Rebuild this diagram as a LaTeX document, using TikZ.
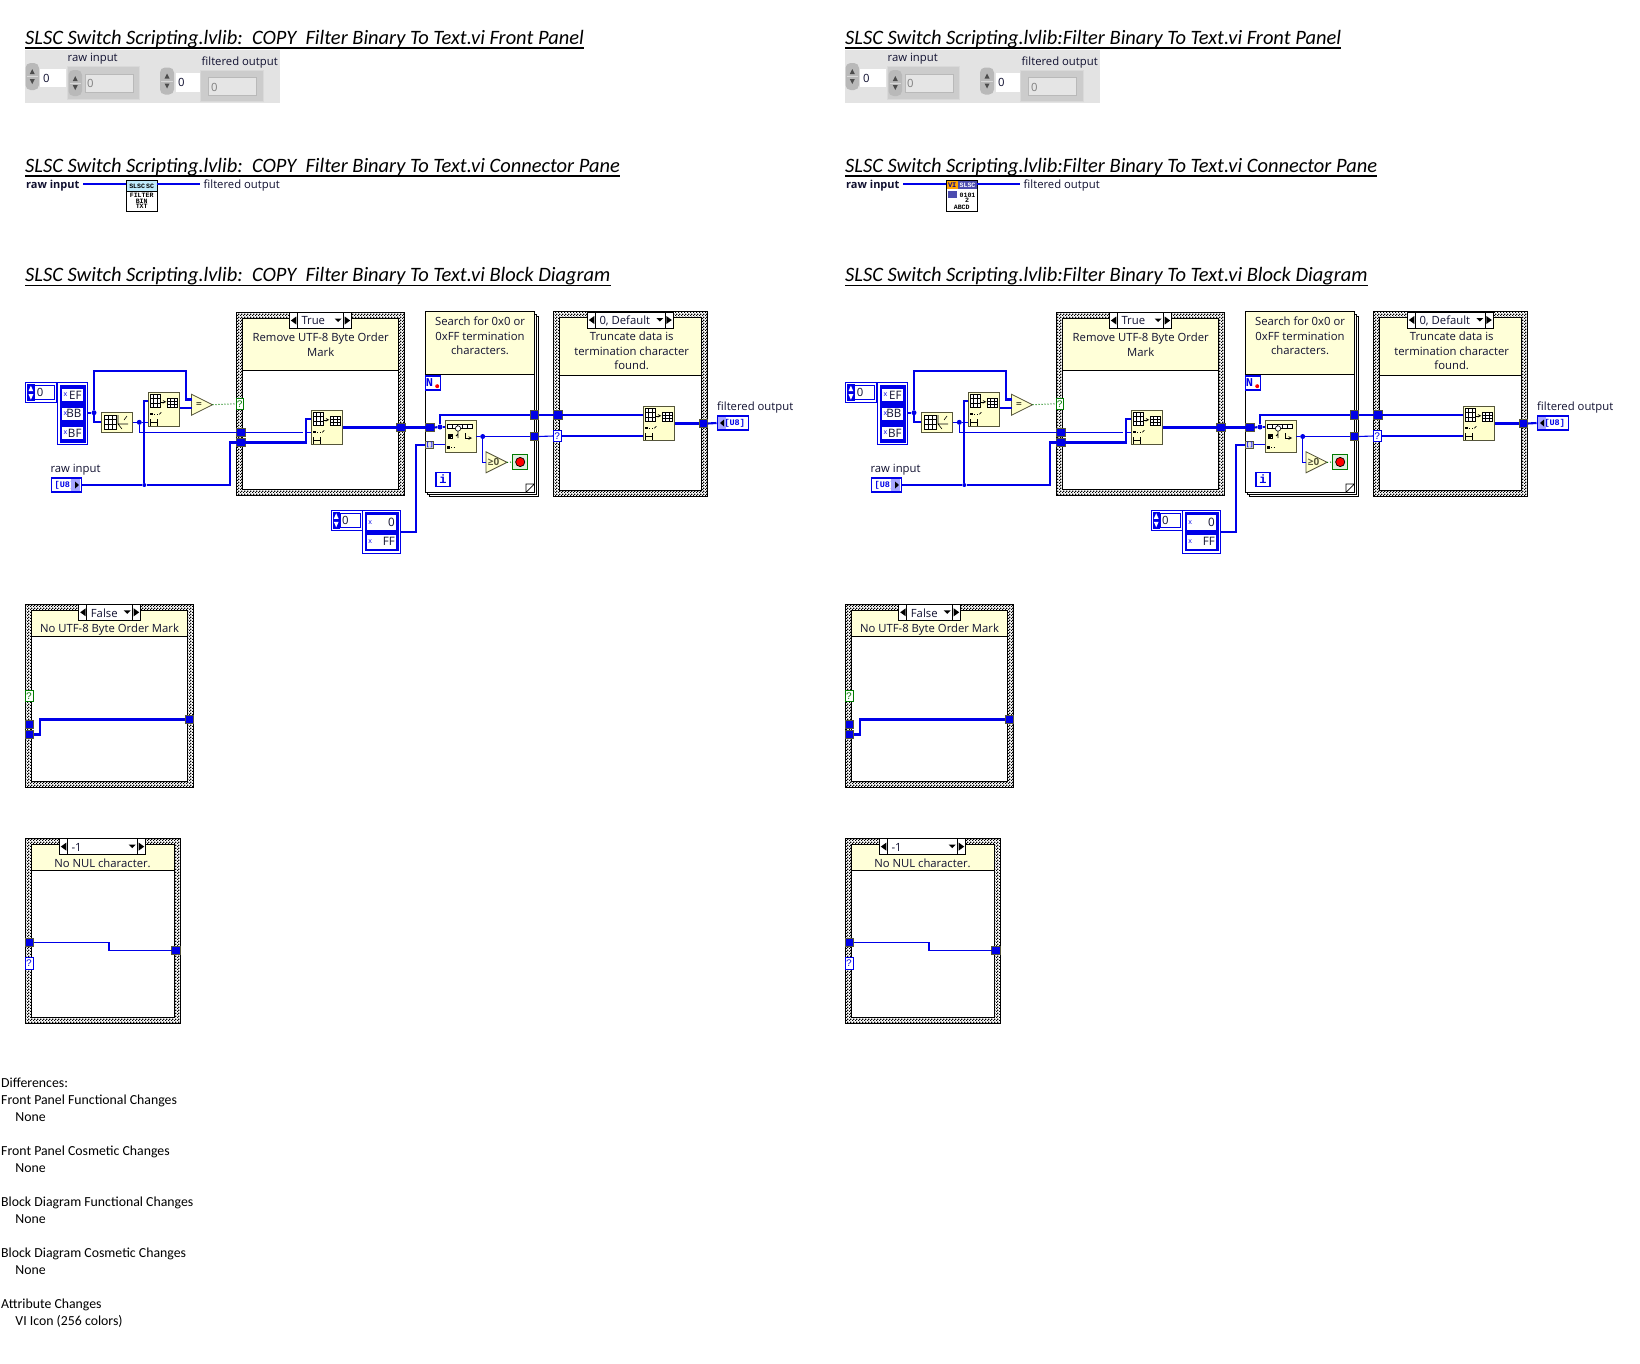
\documentclass[tikz,border=0pt]{standalone}
\usepackage{fontspec}
\setmainfont{Carlito}
\newfontfamily\lvfont{Open Sans}
\newfontfamily\lvmono{Liberation Mono}
\usetikzlibrary{patterns}

\definecolor{lvblue}{HTML}{0000E8}
\definecolor{lvpale}{HTML}{FFFFD8}
\definecolor{lvfunc}{HTML}{FFFFCC}
\definecolor{lvedge}{HTML}{55553A}
\definecolor{lvgreen}{HTML}{007A00}
\definecolor{lvtext}{HTML}{101030}
\definecolor{lvpanel}{HTML}{E3E3E3}

\pgfdeclarepatternformonly{lvdither}{\pgfqpoint{0pt}{0pt}}{\pgfqpoint{3pt}{3pt}}{\pgfqpoint{3pt}{3pt}}{%
	\pgfpathrectangle{\pgfqpoint{0pt}{0pt}}{\pgfqpoint{1.5pt}{1.5pt}}%
	\pgfpathrectangle{\pgfqpoint{1.5pt}{1.5pt}}{\pgfqpoint{1.5pt}{1.5pt}}%
	\pgfusepath{fill}}

\tikzset{
	wire/.style={draw=lvblue,line width=2.1pt},
	thinwire/.style={draw=lvblue,line width=1.1pt},
	boolwire/.style={draw=lvgreen,line width=1pt,dotted},
	tunnel/.style={draw=lvedge,fill=lvblue,line width=.8pt,minimum size=8.4pt,inner sep=0pt,outer sep=0pt},
	junction/.style={circle,fill=lvblue,minimum size=5pt,inner sep=0pt},
	vifunc/.style={draw=lvedge,fill=lvfunc,line width=.8pt,anchor=north west,minimum width=31.4pt,minimum height=34.4pt,inner sep=0pt,outer sep=0pt},
	comment/.style={align=center,text=lvtext,inner sep=0pt,font=\lvfont\fontsize{11.3}{14.6}\selectfont},
	lvlabel/.style={anchor=west,text=lvtext,inner sep=0pt,font=\lvfont\fontsize{11.3}{14}\selectfont},
	vititle/.style={anchor=south west,inner sep=0pt,text depth=3.5pt,font=\fontsize{20.45}{24}\selectfont\itshape},
	termq/.style={draw=#1,text=#1,fill=white,line width=.8pt,minimum width=7.6pt,minimum height=11.4pt,inner sep=0pt,font=\lvmono\fontsize{10}{10}\selectfont},
	numcell/.style={fill=white,inner sep=0pt,anchor=north west},
	iconline/.style={inner sep=0pt,font=\lvmono\bfseries\fontsize{6.6}{6.6}\selectfont},
	gridline/.style={draw=black,line width=.6pt},
}

% case frame: x1 y1 x2 y2 bottom of the header
\newcommand\caseframe[5]{
	\draw[black,line width=.9pt,pattern=lvdither] (#1,#2) rectangle (#3,#4);
	\draw[black,line width=.8pt,fill=white] (#1+6,#2+6) rectangle (#3-6,#4-6);
	\draw[black,line width=.8pt,fill=lvpale] (#1+6,#2+6) rectangle (#3-6,#5);
}
% case selector: name x1 x2 y label
\newcommand\caseselect[5]{
	\draw[black,line width=.8pt,fill=white] (#2,#4) rectangle (#3,#4+16);
	\draw[black,line width=.8pt] (#2+8,#4) -- (#2+8,#4+16) (#3-8,#4) -- (#3-8,#4+16);
	\fill[black] (#2+1.5,#4+8) -- (#2+7,#4+4) -- (#2+7,#4+12) -- cycle;
	\fill[black] (#3-1.5,#4+8) -- (#3-7,#4+4) -- (#3-7,#4+12) -- cycle;
	\fill[black] (#3-17,#4+6) -- (#3-10,#4+6) -- (#3-13.5,#4+9.5) -- cycle;
	\node[lvlabel] (#1) at (#2+12,#4+8.5) {#5};
}
\newcommand\gridbox[4]{
	\draw[gridline,fill=white] (#1,#2) rectangle (#3,#4);
	\draw[gridline] ({(#1)+((#3)-(#1))/3},#2) -- ({(#1)+((#3)-(#1))/3},#4) ({(#1)+2*((#3)-(#1))/3},#2) -- ({(#1)+2*((#3)-(#1))/3},#4);
	\draw[gridline] (#1,{(#2)+((#4)-(#2))/3}) -- (#3,{(#2)+((#4)-(#2))/3}) (#1,{(#2)+2*((#4)-(#2))/3}) -- (#3,{(#2)+2*((#4)-(#2))/3});
}
% array subset function: name x y
\newcommand\subsetfn[3]{
	\node[vifunc] (#1) at (#2,#3) {};
	\gridbox{#2+2}{#3+2}{#2+12}{#3+15}
	\draw[black,line width=.6pt,-stealth] (#2+13,#3+9.5) -- (#2+18,#3+9.5);
	\gridbox{#2+19}{#3+6}{#2+29}{#3+15}
	\fill[black] (#2+2,#3+20.5) rectangle (#2+4.5,#3+23);
	\draw[black,line width=.7pt,dotted] (#2+6,#3+22) -- (#2+10,#3+22);
	\draw[black,line width=.6pt] (#2+11,#3+22) -- (#2+13,#3+20);
	\draw[black,line width=.7pt,|-|] (#2+2,#3+30) -- (#2+9,#3+30);
}
% compare: name x y symbol
\newcommand\cmpfn[4]{
	\draw[draw=lvedge,fill=lvfunc,line width=.8pt] (#2,#3-10.5) -- (#2+21,#3) -- (#2,#3+10.5) -- cycle;
	\node[inner sep=0pt,font=\lvfont\bfseries\fontsize{10}{10}\selectfont,text=lvedge] (#1) at (#2+7.5,#3) {#4};
	\coordinate (#1in) at (#2,#3);
	\coordinate (#1out) at (#2+21,#3);
}
% index control: name x y
\newcommand\indexctl[3]{
	\draw[lvblue,line width=.8pt,fill=white] (#2,#3) rectangle (#2+31,#3+20);
	\fill[lvblue] (#2+1.5,#3+1.5) rectangle (#2+9,#3+18.5);
	\fill[white] (#2+5.2,#3+3) -- (#2+7.6,#3+8.5) -- (#2+2.8,#3+8.5) -- cycle;
	\fill[white] (#2+5.2,#3+17) -- (#2+7.6,#3+11.5) -- (#2+2.8,#3+11.5) -- cycle;
	\draw[lvblue,line width=.8pt] (#2+29,#3+3) rectangle (#2+9,#3+17);
	\node[lvlabel] (#1) at (#2+11,#3+10) {0};
}
% array cell: name x1 y1 w h text
\newcommand\arraycell[6]{
	\node[numcell,minimum width=#4pt,minimum height=#5pt] (#1) at (#2,#3) {};
	\node[inner sep=0pt,text=lvblue,font=\lvfont\fontsize{7}{7}\selectfont] (#1x) at (#2+3.5,#3+#5/2) {x};
	\node[anchor=east,inner sep=0pt,text=lvtext,font=\lvfont\fontsize{11.6}{12}\selectfont] (#1t) at (#2+#4-1,#3+#5/2) {#6};
}
% front panel spinner: x1 y1 x2 y2
\newcommand\fpspin[4]{
	\fill[gray!55,rounded corners=5pt] (#1,#2) rectangle (#3,#4);
	\draw[gray!30,line width=.6pt] (#1+1,{(#2+#4)/2}) -- (#3-1,{(#2+#4)/2});
	\fill[black!70] ({(#1+#3)/2},#2+6) -- ({(#1+#3)/2+2.5},#2+11) -- ({(#1+#3)/2-2.5},#2+11) -- cycle;
	\fill[black!70] ({(#1+#3)/2},#4-6) -- ({(#1+#3)/2+2.5},#4-11) -- ({(#1+#3)/2-2.5},#4-11) -- cycle;
}
% dimmed front panel box: x1 y1 x2 y2 x3 y3 x4 y4
\newcommand\fpdim[8]{
	\draw[white!85!black,line width=.8pt,fill=gray!40] (#1,#2) rectangle (#3,#4);
	\fill[gray!20] (#5,#6) rectangle (#7,#8);
	\draw[gray!55,line width=1pt] (#5,#6) rectangle (#7,#8);
}

\begin{document}
\begin{tikzpicture}[x=1pt,y=-1pt]
	\useasboundingbox (0,0) rectangle (1640,1363);

	\foreach \colname/\xs/\vitext in {L/0/{SLSC Switch Scripting.lvlib:~~COPY~~Filter Binary To Text.vi},R/820/{SLSC Switch Scripting.lvlib:Filter Binary To Text.vi}}{
	\begin{scope}[xshift=\xs,name prefix=\colname-]
		% titles
		\node[vititle] (fptitle) at (25,48) {\vitext\ Front Panel};
		\node[vititle] (cptitle) at (25,176) {\vitext\ Connector Pane};
		\node[vititle] (bdtitle) at (25,285.5) {\vitext\ Block Diagram};
		\foreach \t in {fptitle,cptitle,bdtitle}
			\draw[black,line width=1.4pt] (\t.south west) -- (\t.south east);

		% front panel
		\fill[lvpanel] (25,49.5) rectangle (280,102.7);
		\fpspin{25.5}{63}{39}{90}
		\fill[white] (40,69) rectangle (65.5,87);
		\node[lvlabel] (fpnum1) at (43,78) {0};
		\fpdim{67.6}{66.7}{139.3}{99.3}{85}{74.7}{133}{92.3}
		\fpspin{68.5}{70}{82}{96}
		\node[lvlabel,text=gray] (fpdim1) at (87,83.5) {0};
		\node[lvlabel] (fpraw) at (67.5,59) {raw input};
		\fpspin{160}{67.5}{174}{94.5}
		\fill[white] (176,72.7) rectangle (199.6,91.7);
		\node[lvlabel] (fpnum2) at (178,82.5) {0};
		\fpdim{200.8}{70.7}{263}{101}{208}{77.7}{256.6}{95.7}
		\node[lvlabel,text=gray] (fpdim2) at (211,87) {0};
		\node[lvlabel] (fpfilt) at (201.5,62.5) {filtered output};

		% connector pane
		\node[lvlabel,font=\lvfont\bfseries\fontsize{11}{14}\selectfont] (cpraw) at (26,185.5) {raw input};
		\node[lvlabel] (cpfilt) at (203.5,185.5) {filtered output};
		\node[draw=black,line width=.9pt,fill=white,minimum width=31.5pt,minimum height=31pt,inner sep=0pt,outer sep=0pt] (cpicon) at (141.7,195.8) {};
		\coordinate (cpin) at (83,184);
		\coordinate (cpout) at (200,184);
		\draw[wire] (cpin) -- (cpicon.west |- cpin);
		\draw[wire] (cpicon.east |- cpout) -- (cpout);
		\ifnum\xs=0
			\fill[cyan!25] (126.5,181) rectangle (157,191.5);
			\draw[black,line width=.7pt] (126,191.7) -- (157.5,191.7);
			\node[iconline] (icona) at (141.7,186.2) {SLSC\,SC};
			\node[iconline] (iconb) at (141.7,195.5) {FILTER};
			\node[iconline] (iconc) at (141.7,201) {BIN};
			\node[iconline] (icond) at (141.7,206.8) {TXT};
		\else
			\fill[blue!55!black!70] (126.5,181) rectangle (157,189);
			\fill[orange!70!yellow] (126.5,181) rectangle (138,189);
			\node[inner sep=0pt,font=\lvmono\bfseries\fontsize{7}{7}\selectfont,text=blue!60!black] (icone) at (132.2,185.2) {VI};
			\node[iconline,text=white] (icona) at (147.5,185.2) {SLSC};
			\fill[blue!55!black!70] (128,191) rectangle (137,198);
			\node[iconline] (iconb) at (147.5,195) {0101};
			\node[iconline] (iconc) at (147,200.5) {2};
			\node[iconline] (icond) at (141.7,207) {ABCD};
		\fi

		% block diagram frames
		\caseframe{236.7}{312.7}{404.7}{495.7}{370.3}
		\caseselect{casetrue}{289.3}{351.7}{312.5}{True}
		\node[comment] (truenote) at (320.7,344.7) {Remove UTF-8 Byte Order\\Mark};
		\foreach \o in {4.4,2.2}
			\draw[black,line width=.6pt,fill=white] (425.3+\o,311.7+\o) rectangle (534.3+\o,492.3+\o);
		\draw[black,line width=1.1pt,fill=white] (425.3,311.7) rectangle (534.3,492.3);
		\draw[black,line width=1.1pt,fill=lvpale] (425.3,311.7) rectangle (534.3,374.7);
		\draw[black,line width=.7pt,fill=white] (526,492.3) -- (526,484) -- (534.3,484) -- cycle;
		\node[comment] (loopnote) at (480,336) {Search for 0x0 or\\0xFF termination\\characters.};
		\caseframe{553.7}{311.7}{707.7}{496.7}{375.7}
		\caseselect{casedefault}{587.3}{673.3}{312}{0, Default}
		\node[comment] (defnote) at (631.7,351) {Truncate data is\\termination character\\found.};

		% left part
		\indexctl{idxa}{25.7}{382.7}
		\draw[lvblue,line width=.8pt,fill=white] (57.3,382.7) rectangle (87.7,444.7);
		\fill[lvblue] (59.5,385) rectangle (85.5,442.5);
		\arraycell{ef}{62}{389}{20.7}{12}{EF}
		\arraycell{bb}{62}{407.7}{20.7}{12}{BB}
		\arraycell{bf}{62}{427}{20.7}{12}{BF}
		\coordinate (arrout) at (87.7,412.7);
		\node[draw=lvedge,fill=lvfunc,line width=.8pt,anchor=north west,minimum width=31.7pt,minimum height=20.7pt,inner sep=0pt,outer sep=0pt] (sizefn) at (101,412) {};
		\gridbox{104}{415}{116}{429}
		\draw[black,line width=.6pt] (118,415) -- (118,424) -- (128,424) (118,424) -- (122,429) (124,420) -- (127,416);
		\subsetfn{subfna}{148.3}{392.3}
		\cmpfn{eqfn}{191.5}{404.7}{=}
		\node[termq=lvgreen] (selq) at (239.8,403.8) {?};
		\node[tunnel] (tuna) at (240.9,432.5) {};
		\node[tunnel] (tunb) at (240.9,442.5) {};
		\node[tunnel] (tunc) at (400.7,427.5) {};
		\node[junction] (joina) at (94,412.7) {};
		\node[junction] (joinb) at (139.3,422.3) {};
		\node[junction,minimum size=4pt] (joinc) at (144.3,485) {};
		\draw[wire] (arrout) -- (joina);
		\draw[wire] (joina) -- ++(0,-42) -| (186,399.5) -- (191.5,399.5);
		\draw[wire] (joina) |- (sizefn.west);
		\draw[thinwire] (sizefn.east |- joinb) -- (joinb);
		\draw[thinwire] (joinb) -- (subfna.west |- joinb);
		\draw[thinwire] (joinb) |- (tuna.west);
		\draw[wire] (joinc) -- ++(0,-84.3) -- (subfna.west |- 0,400.7);
		\coordinate (rawout) at (80.7,485);
		\draw[wire] (rawout) -- (joinc) -- ++(85.7,0) |- (tunb.west);
		\draw[wire] (subfna.east |- 0,408.3) -- (191.5,408.3);
		\draw[boolwire] (eqfnout) -- (selq.west);

		% raw input terminal
		\node[draw=lvblue,line width=1.6pt,fill=white,anchor=west,minimum width=30pt,minimum height=14pt,inner sep=0pt,text=lvblue,font=\lvmono\bfseries\fontsize{8.5}{8.5}\selectfont] (rawin) at (50.5,484.8) {[U8]\,\,};
		\fill[blue!35] (71,479) rectangle (79.5,491);
		\fill[black] (79,485) -- (75,481.5) -- (75,488.5) -- cycle;
		\node[lvlabel] (rawlab) at (50.3,469.5) {raw input};

		% inside the true case
		\subsetfn{subfnb}{311.3}{410.3}
		\draw[thinwire] (tuna.east) -- (303,432.5);
		\draw[thinwire] (305.7,432.5) -- (subfnb.west |- tuna);
		\draw[wire] (tunb.east) -- ++(60.6,0) |- (subfnb.west |- 0,418.7);
		\draw[wire] (subfnb.east |- tunc) -- (tunc.west);

		% while loop
		\node[tunnel] (tund) at (429.7,427.5) {};
		\node[draw=lvedge,fill=gray!25,line width=.8pt,minimum width=8pt,minimum height=7.6pt,inner sep=0pt,text=lvblue,font=\lvmono\bfseries\fontsize{6}{6}\selectfont] (tune) at (429.8,444.7) {[]};
		\node[tunnel] (tunf) at (534.5,415) {};
		\node[tunnel] (tung) at (534.5,436.5) {};
		\node[draw=lvblue,line width=1.2pt,fill=white,minimum size=14pt,inner sep=0pt,text=lvblue,font=\lvmono\bfseries\fontsize{12}{12}\selectfont] (nterm) at (433,383) {N\phantom{.}};
		\fill[red] (437.2,386.2) circle (2pt);
		\node[draw=lvblue,line width=1.4pt,fill=white,minimum size=14pt,inner sep=0pt,text=lvblue,font=\lvmono\bfseries\fontsize{12}{12}\selectfont] (iterm) at (443,479.2) {i};
		\node[vifunc,minimum height=32pt] (searchfn) at (445,420) {};
		\draw[gridline,fill=white] (447,424) rectangle (472,428.5);
		\draw[gridline] (452,424) -- (452,428.5) (457,424) -- (457,428.5) (462,424) -- (462,428.5) (467,424) -- (467,428.5);
		\draw[gridline,fill=white] (458,428.5) circle (2.7pt);
		\draw[black,line width=.9pt] (458,431) -- (458,438) (456,436) -- (458,434);
		\gridbox{448}{434}{452}{438}
		\draw[black,line width=.6pt,-stealth] (465,433) -- (465,438) -- (472,438);
		\fill[black] (447,446) rectangle (449.5,448.5);
		\draw[black,line width=.7pt,dotted] (451,447) -- (456,447);
		\node[junction] (joind) at (440,427) {};
		\node[junction] (joine) at (482.7,436.5) {};
		\draw[wire] (tund.east) -- (joind);
		\draw[wire] (joind) -- (searchfn.west |- joind);
		\draw[wire] (joind) |- (tunf.west);
		\draw[thinwire] (tune.east) -- (searchfn.west |- tune);
		\draw[thinwire] (searchfn.east |- joine) -- (joine);
		\draw[thinwire] (joine) -- (tung.west);
		\cmpfn{gefn}{486}{462.3}{≥0}
		\draw[thinwire] (joine) |- (gefnin);
		\node[draw=lvgreen,line width=1pt,fill=lvgreen!12,minimum size=15pt,inner sep=0pt] (stopt) at (520.2,462) {};
		\draw[black,line width=.7pt,fill=red] (stopt.center) circle (4.6pt);
		\draw[boolwire] (gefnout) -- (stopt.west);
		\indexctl{idxb}{331}{510.3}
		\draw[lvblue,line width=.8pt,fill=white] (362.7,510.3) rectangle (400.7,553.3);
		\fill[lvblue] (364.7,512.3) rectangle (398.7,551.3);
		\arraycell{zero}{366.7}{515}{29.3}{14.3}{0}
		\arraycell{ff}{366.7}{534.3}{29.3}{14.4}{FF}
		\coordinate (arrbout) at (400.7,531.7);
		\draw[wire] (arrbout) -- ++(15,0) |- (tune.west);
		\draw[wire] (tunc.east) -- (tund.west);

		% default case
		\node[tunnel] (tunh) at (557.7,415) {};
		\node[termq=lvblue] (selr) at (557.3,436) {?};
		\node[tunnel] (tuni) at (703.3,423.5) {};
		\subsetfn{subfnc}{643.3}{406.3}
		\draw[wire] (tunf.east) -- (tunh.west);
		\draw[wire] (tunh.east) -- (subfnc.west |- tunh);
		\draw[thinwire] (tung.east) -- (selr.west);
		\draw[thinwire] (selr.east) -- (subfnc.west |- selr);
		\draw[wire] (subfnc.east |- tuni) -- (tuni.west);
		\node[draw=lvblue,line width=1.2pt,fill=white,anchor=west,minimum width=31pt,minimum height=14pt,inner sep=0pt,text=lvblue,font=\lvmono\bfseries\fontsize{8.5}{8.5}\selectfont] (filtout) at (716.5,423) {\,\,\,[U8]};
		\fill[blue!35] (717.5,417) rectangle (725.5,429);
		\fill[black] (720,423) -- (724,419.5) -- (724,426.5) -- cycle;
		\draw[wire] (tuni.east) -- (filtout.west);
		\node[lvlabel] (filtlab) at (717,407.5) {filtered output};

		% false case
		\caseframe{25.3}{604}{193.7}{787.7}{636.7}
		\caseselect{casefalse}{78.7}{140.7}{604.3}{False}
		\node[comment] (falsenote) at (109.5,629.5) {No UTF-8 Byte Order Mark};
		\node[termq=lvgreen] (falseq) at (29.2,696) {?};
		\node[tunnel] (fta) at (29.6,724.5) {};
		\node[tunnel] (ftb) at (29.6,734.5) {};
		\node[tunnel] (ftc) at (189.5,719.5) {};
		\draw[wire] (ftb.east) -- ++(6,0) |- (ftc.west);

		% minus one case
		\caseframe{25.3}{838.3}{180}{1023.3}{870.7}
		\caseselect{caseminus}{59.3}{145.7}{838.6}{-1}
		\node[comment] (minusnote) at (102.5,863.5) {No NUL character.};
		\node[tunnel] (mta) at (29.6,942.5) {};
		\node[termq=lvblue] (mtq) at (29.2,963.3) {?};
		\node[tunnel] (mtb) at (175.7,950.5) {};
		\draw[wire,line width=1.7pt] (mta.east) -- ++(75,0) |- (mtb.west);
	\end{scope}
	}

	% differences
	\foreach \n/\xpos/\ypos/\txt in {a/1/1087/Differences:,b/1/1104/Front Panel Functional Changes,c/15.3/1121/None,d/1/1155/Front Panel Cosmetic Changes,e/15.3/1172/None,f/1/1206/Block Diagram Functional Changes,g/15.3/1223/None,h/1/1257/Block Diagram Cosmetic Changes,i/15.3/1274/None,j/1/1308/Attribute Changes,k/15.3/1325/VI Icon (256 colors)}
		\node[anchor=base west,inner sep=0pt,font=\fontsize{13.8}{16}\selectfont] (diff\n) at (\xpos,\ypos) {\txt};
\end{tikzpicture}
\end{document}
